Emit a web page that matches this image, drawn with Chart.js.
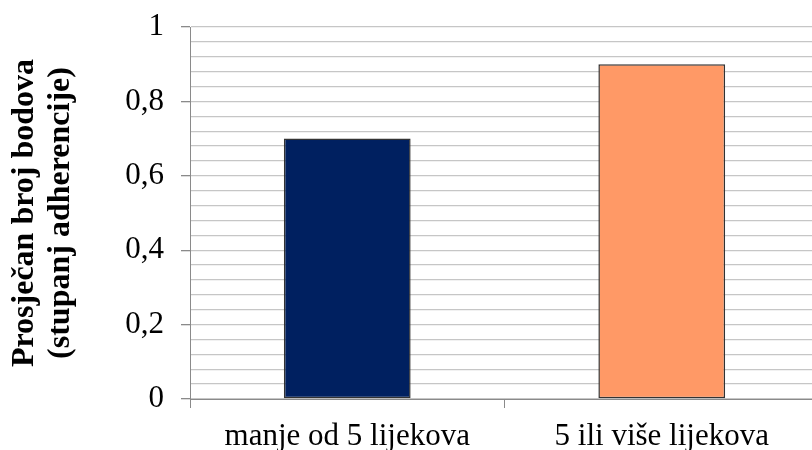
<!DOCTYPE html>
<html>
<head>
<meta charset="utf-8">
<script src="https://cdn.jsdelivr.net/npm/chart.js@4"></script>
<style>
  html, body { margin: 0; padding: 0; background: #fff; overflow: hidden; }
  #wrap { width: 819px; height: 450px; position: relative; }
</style>
</head>
<body>
<div id="wrap"><canvas id="adherenceChart"></canvas></div>
<script>
const categories = ["manje od 5 lijekova", "5 ili više lijekova"];
const scores = [0.7, 0.9];
const barColors = ["#002060", "#FF9966"];
const yTitle = ["Prosječan broj bodova", "(stupanj adherencije)"];

// minor gridline every 0.04, labels only on 0.2 steps
function isMajor(v) {
  return Math.round(v * 25) % 5 === 0;
}

const ctx = document.getElementById("adherenceChart").getContext("2d");
new Chart(ctx, {
  type: "bar",
  data: {
    labels: categories,
    datasets: [
      {
        data: scores,
        backgroundColor: barColors,
        borderColor: "#333333",
        borderWidth: 1.5,
        borderSkipped: false,
        barPercentage: 0.403,
        categoryPercentage: 1,
      },
    ],
  },
  options: {
    responsive: true,
    maintainAspectRatio: false,
    animation: false,
    layout: { padding: { top: 27, left: 0, right: 0, bottom: 0 } },
    plugins: { legend: { display: false }, tooltip: { enabled: false } },
    scales: {
      x: {
        offset: true,
        grid: {
          offset: true,
          drawOnChartArea: false,
          tickLength: 9,
          color: "#8a8a8a",
        },
        border: { color: "#8a8a8a", width: 1 },
        ticks: {
          color: "#000",
          padding: 10,
          font: { family: "Liberation Serif", size: 31 },
        },
        afterFit: (scale) => { scale.height = 51; },
      },
      y: {
        min: 0,
        max: 1,
        grid: {
          color: "#c6c6c6",
          lineWidth: 1.3,
          tickLength: 9,
          tickColor: (c) => (c.tick && isMajor(c.tick.value) ? "#8a8a8a" : "rgba(0,0,0,0)"),
        },
        border: { color: "#8a8a8a", width: 1 },
        ticks: {
          stepSize: 0.04,
          autoSkip: false,
          color: "#000",
          padding: 17,
          font: { family: "Liberation Serif", size: 31, lineHeight: 0.6 },
          callback: (v) => (isMajor(v) ? String(Math.round(v * 10) / 10).replace(".", ",") : ""),
        },
        title: {
          display: true,
          text: yTitle,
          color: "#000",
          padding: { top: 6, bottom: 0 },
          font: { family: "Liberation Serif", size: 32, weight: "bold", lineHeight: 1.15 },
        },
        afterFit: (scale) => { scale.width = 190; },
      },
    },
  },
});
</script>
</body>
</html>
